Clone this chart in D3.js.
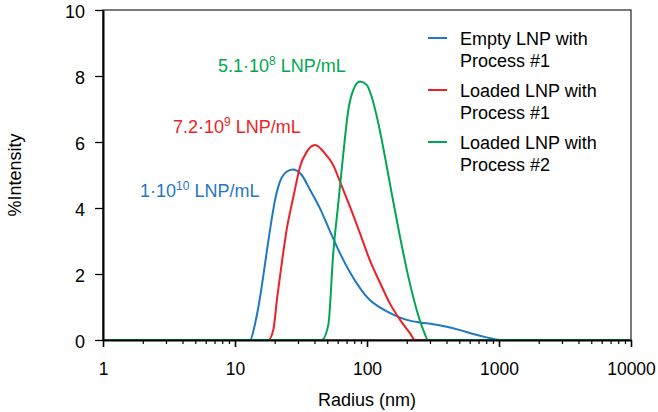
<!DOCTYPE html>
<html>
<head>
<meta charset="utf-8">
<script src="https://cdn.jsdelivr.net/npm/d3@7"></script>
<style>
    body { margin: 0; background: #fff; }
    text { font-family: "Liberation Sans", Arial, Helvetica, sans-serif; }
</style>
</head>
<body>
<svg id="chart"></svg>
<script>
// values (radius in nm, % intensity)
const blueRadius = [1, 13.0, 14.2, 15.5, 16.9, 18.4, 20.1, 21.9, 24.6, 27.4, 32.0, 37.0, 44.1, 52.4, 62.4, 74.3, 88.5, 105, 126, 158, 200, 252, 318, 402, 506, 639, 807, 1018, 10000];
const blueIntensity = [0, 0, 0.5, 1.31, 2.32, 3.33, 4.24, 4.8, 5.1, 5.17, 5.0, 4.55, 3.98, 3.3, 2.63, 2.05, 1.57, 1.21, 0.98, 0.77, 0.61, 0.53, 0.48, 0.4, 0.3, 0.18, 0.08, 0, 0];

const redRadius = [1, 17.9, 19.5, 20.9, 22.6, 24.6, 27.7, 31.1, 34.9, 40.4, 48.1, 55.5, 62.4, 74.3, 88.5, 105, 126, 149, 178, 212, 231, 10000];
const redIntensity = [0, 0, 0.3, 1.31, 2.32, 3.33, 4.34, 5.25, 5.7, 5.91, 5.65, 5.3, 4.8, 4.04, 3.23, 2.42, 1.72, 1.11, 0.61, 0.2, 0, 0];

const greenRadius = [1, 45.4, 50.9, 55.5, 60.6, 66.2, 72.2, 78.8, 88.5, 99.5, 108.5, 121.8, 136.9, 153.9, 177.8, 205.6, 238, 267, 291, 10000];
const greenIntensity = [0, 0, 0.45, 2.63, 4.14, 5.66, 6.97, 7.58, 7.83, 7.73, 7.37, 6.57, 5.55, 4.44, 3.13, 1.92, 0.91, 0.3, 0, 0];

const seriesNames = [["Empty LNP with", "Process #1"], ["Loaded LNP with", "Process #1"], ["Loaded LNP with", "Process #2"]];
const seriesColors = ["#1f78c1", "#ee1f26", "#00a651"];
const concLabels = [["1·10", "10", " LNP/mL"], ["7.2·10", "9", " LNP/mL"], ["5.1·10", "8", " LNP/mL"]];

const xMajorTicks = [1, 10, 100, 1000, 10000];
const yTicks = [0, 2, 4, 6, 8, 10];

const width = 658, height = 412;
const margin = { top: 10, right: 27, bottom: 72, left: 103 };
const innerW = width - margin.left - margin.right;
const innerH = height - margin.top - margin.bottom;

const svg = d3.select("#chart").attr("width", width).attr("height", height);
const g = svg.append("g").attr("transform", `translate(${margin.left},${margin.top})`);

const x = d3.scaleLog().domain([1, 10000]).range([0, innerW]);
const y = d3.scaleLinear().domain([0, 10]).range([innerH, 0]);

// minor ticks 2..9 in every decade
const xMinorTicks = [];
[1, 10, 100, 1000].forEach(d => { for (let k = 2; k <= 9; k++) xMinorTicks.push(d * k); });

// frame
g.append("rect")
    .attr("width", innerW).attr("height", innerH)
    .attr("fill", "none").attr("stroke", "#222").attr("stroke-width", 1.2);

// curves
const series = [
    { r: blueRadius, v: blueIntensity },
    { r: redRadius, v: redIntensity },
    { r: greenRadius, v: greenIntensity }
];
const line = d3.line()
    .x(d => x(d[0]))
    .y(d => y(d[1]))
    .curve(d3.curveMonotoneX);

series.forEach((s, i) => {
    g.append("path")
        .datum(s.r.map((r, j) => [r, s.v[j]]))
        .attr("d", line)
        .attr("fill", "none")
        .attr("stroke", seriesColors[i])
        .attr("stroke-width", 2);
});

// axes
const yAxis = g.append("g")
    .call(d3.axisLeft(y).tickValues(yTicks).tickSize(8).tickPadding(10).tickSizeOuter(0));
yAxis.select(".domain").attr("stroke", "#000").attr("stroke-width", 2);
yAxis.selectAll("text").attr("font-size", 18).attr("dy", "0.4em").attr("fill", "#000");
yAxis.selectAll("line").attr("stroke-width", 1.3);

const xMinor = g.append("g").attr("transform", `translate(0,${innerH})`)
    .call(d3.axisBottom(x).tickValues(xMinorTicks).tickSize(4).tickFormat("").tickSizeOuter(0));
xMinor.select(".domain").remove();
xMinor.selectAll("line").attr("stroke-width", 1.2);

const xAxis = g.append("g").attr("transform", `translate(0,${innerH})`)
    .call(d3.axisBottom(x).tickValues(xMajorTicks).tickSize(7).tickPadding(16)
        .tickFormat(d3.format("d")).tickSizeOuter(0));
xAxis.select(".domain").attr("stroke", "#000").attr("stroke-width", 2);
xAxis.selectAll("text").attr("font-size", 17.5).attr("fill", "#000");
xAxis.selectAll("line").attr("stroke-width", 1.6);

// axis titles
svg.append("text")
    .attr("x", 367).attr("y", 406)
    .attr("text-anchor", "middle").attr("font-size", 18)
    .text("Radius (nm)");
svg.append("text")
    .attr("transform", "translate(21,175) rotate(-90)")
    .attr("text-anchor", "middle").attr("font-size", 18)
    .text("%Intensity");

// concentration labels
const concPos = [[140, 197], [173, 133], [218, 72]];
concLabels.forEach((c, i) => {
    const t = svg.append("text")
        .attr("x", concPos[i][0]).attr("y", concPos[i][1])
        .attr("font-size", 18).attr("fill", seriesColors[i]);
    t.append("tspan").text(c[0]);
    t.append("tspan").attr("font-size", 12).attr("dy", -7).text(c[1]);
    t.append("tspan").attr("dy", 7).text(c[2]);
});

// legend
const legend = svg.append("g").attr("transform", "translate(428,38)");
seriesNames.forEach((n, i) => {
    const row = legend.append("g").attr("transform", `translate(0,${i * 52})`);
    row.append("line")
        .attr("x1", 0).attr("x2", 19)
        .attr("stroke", seriesColors[i]).attr("stroke-width", 2);
    row.append("text").attr("x", 32).attr("y", 7).attr("font-size", 18).text(n[0]);
    row.append("text").attr("x", 32).attr("y", 29).attr("font-size", 18).text(n[1]);
});
</script>
</body>
</html>
